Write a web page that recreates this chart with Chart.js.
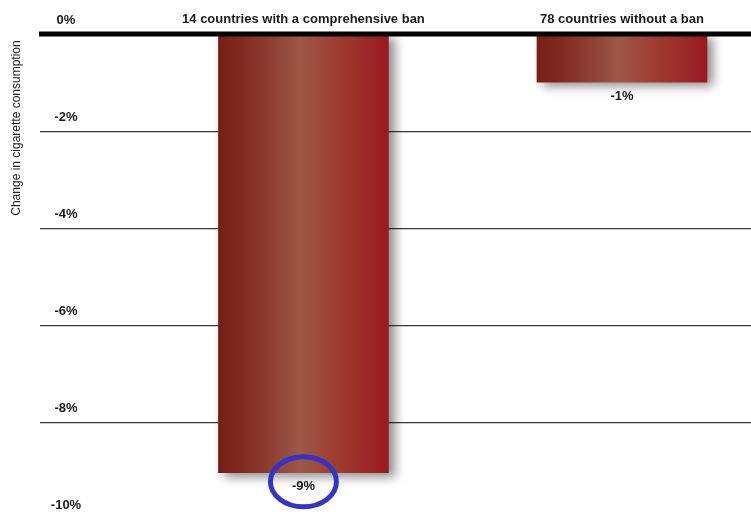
<!DOCTYPE html>
<html>
<head>
<meta charset="utf-8">
<script src="https://cdn.jsdelivr.net/npm/chart.js@4/dist/chart.umd.min.js"></script>
<style>
  html, body { margin: 0; padding: 0; background: #fff; overflow: hidden; }
  canvas { display: block; }
</style>
</head>
<body>
<canvas id="chart" width="751" height="515"></canvas>
<script>
// Data
const categories = ["14 countries with a comprehensive ban", "78 countries without a ban"];
const changeValues = [-9.03, -0.99];
const valueLabels = ["-9%", "-1%"];
const tickValues = [0, -2, -4, -6, -8, -10];
const tickLabels = ["0%", "-2%", "-4%", "-6%", "-8%", "-10%"];
const highlightIndex = 0;

const FONT = '"Liberation Sans Narrow", "Arial Narrow", "Liberation Sans", sans-serif';
const BAR_W = 170;

// Horizontal gradient for each bar
function barFill(c) {
  const chart = c.chart;
  const xs = chart.scales.x;
  if (!xs || !chart.chartArea) return "#8b2a22";
  const px = xs.getPixelForValue(c.dataIndex + 1);
  const g = chart.ctx.createLinearGradient(px - BAR_W / 2, 0, px + BAR_W / 2, 0);
  g.addColorStop(0, "#771d17");
  g.addColorStop(0.25, "#88372a");
  g.addColorStop(0.48, "#9d5846");
  g.addColorStop(0.72, "#9e3a2e");
  g.addColorStop(1, "#9a1a21");
  return g;
}

const shadowPlugin = {
  id: "shadow",
  beforeDatasetsDraw(chart) {
    const ctx = chart.ctx;
    ctx.save();
    ctx.shadowColor = "rgba(0,0,0,0.45)";
    ctx.shadowBlur = 10;
    ctx.shadowOffsetX = 6;
    ctx.shadowOffsetY = 4;
  },
  afterDatasetsDraw(chart) {
    chart.ctx.restore();
  }
};

const textPlugin = {
  id: "texts",
  afterDatasetsDraw(chart) {
    const ctx = chart.ctx;
    const xs = chart.scales.x, ys = chart.scales.y;
    const area = chart.chartArea;
    ctx.save();

    // thick zero line on top of the bars
    const y0 = ys.getPixelForValue(0);
    ctx.fillStyle = "#000";
    ctx.fillRect(area.left - 1, y0 - 2.5, area.right - area.left + 1, 5);

    // tick labels above the grid lines
    ctx.fillStyle = "#1a1a1a";
    ctx.font = "bold 13px " + FONT;
    ctx.textAlign = "center";
    ctx.textBaseline = "middle";
    tickValues.forEach((v, i) => {
      ctx.fillText(tickLabels[i], 66, ys.getPixelForValue(v) - 14);
    });

    // category labels at the top
    categories.forEach((c, i) => {
      ctx.fillText(c, xs.getPixelForValue(i + 1), y0 - 15);
    });

    // value labels below bars
    changeValues.forEach((v, i) => {
      ctx.fillText(valueLabels[i], xs.getPixelForValue(i + 1), ys.getPixelForValue(v) + 14);
    });

    // blue circle round the highlighted label
    const hx = xs.getPixelForValue(highlightIndex + 1);
    const hy = ys.getPixelForValue(changeValues[highlightIndex]) + 9;
    ctx.strokeStyle = "#3434c6";
    ctx.lineWidth = 5;
    ctx.beginPath();
    ctx.ellipse(hx, hy, 33, 25, 0, 0, Math.PI * 2);
    ctx.stroke();

    // y axis title
    ctx.translate(17, 128);
    ctx.rotate(-Math.PI / 2);
    ctx.font = "12px " + FONT;
    ctx.fillStyle = "#222";
    ctx.fillText("Change in cigarette consumption", 0, 0);
    ctx.restore();
  }
};

new Chart(document.getElementById("chart"), {
  type: "bar",
  data: {
    datasets: [{
      data: changeValues.map((v, i) => ({ x: i + 1, y: v })),
      backgroundColor: barFill,
      borderWidth: 0,
      barThickness: BAR_W
    }]
  },
  options: {
    responsive: false,
    animation: false,
    layout: { padding: { top: 34, right: 0, bottom: 0, left: 0 } },
    plugins: { legend: { display: false }, tooltip: { enabled: false } },
    scales: {
      x: {
        type: "linear",
        display: false,
        offset: false,
        min: 0.173,
        max: 2.405
      },
      y: {
        min: -9.9,
        max: 0,
        afterFit(s) { s.width = 40; },
        afterBuildTicks(s) { s.ticks = tickValues.slice(0, 5).map(v => ({ value: v })); },
        ticks: { display: false },
        border: { display: false },
        grid: {
          drawTicks: false,
          color: c => (c.tick && c.tick.value === 0 ? "rgba(0,0,0,0)" : "#3a3a3a"),
          lineWidth: 1.2
        }
      }
    }
  },
  plugins: [shadowPlugin, textPlugin]
});
</script>
</body>
</html>
